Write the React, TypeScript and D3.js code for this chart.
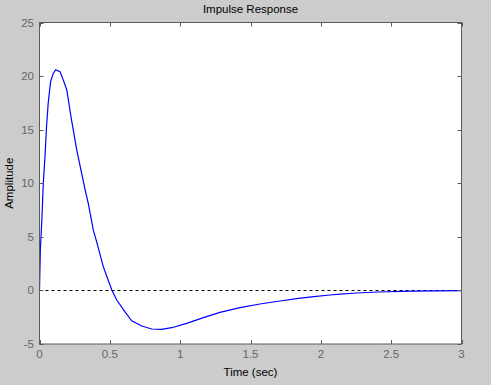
import React from 'react';
import * as d3 from 'd3';

// impulse response samples
const timeSec = [0, 0.002, 0.006, 0.016, 0.027, 0.039, 0.05, 0.062, 0.079, 0.098, 0.115, 0.146, 0.17, 0.194, 0.224, 0.265, 0.3, 0.324, 0.347, 0.383, 0.407, 0.454, 0.514, 0.549, 0.608, 0.655, 0.727, 0.798, 0.868, 0.94, 1.046, 1.165, 1.283, 1.425, 1.567, 1.71, 1.84, 1.95, 2.066, 2.137, 2.255, 2.41, 2.647, 3.0];
const amplitude = [0, 1.3, 3.8, 6.4, 10.0, 12.5, 15.3, 17.5, 19.5, 20.25, 20.6, 20.4, 19.6, 18.7, 16.2, 13.1, 10.9, 9.4, 8.1, 5.6, 4.5, 2.2, 0.04, -0.9, -2.0, -2.83, -3.32, -3.6, -3.63, -3.48, -3.07, -2.54, -2.05, -1.61, -1.27, -0.99, -0.74, -0.58, -0.43, -0.34, -0.24, -0.15, -0.06, -0.02];

const xTicks = [0, 0.5, 1, 1.5, 2, 2.5, 3];
const yTicks = [-5, 0, 5, 10, 15, 20, 25];

const W = 491;
const H = 385;
const left = 39.5;
const right = 461.5;
const top = 22.5;
const bottom = 344;
const font = 'Liberation Sans, Arial, sans-serif';

export default function App() {
  const x = d3.scaleLinear().domain([0, 3]).range([left, right]);
  const y = d3.scaleLinear().domain([-5, 25]).range([bottom, top]);

  const pts = timeSec.map((t, i) => [t, amplitude[i]] as [number, number]);
  const line = d3.line<[number, number]>().x(d => x(d[0])).y(d => y(d[1]));

  const axisColor = '#5a5a5a';
  const labelColor = '#666666';
  const tick = 4;
  const px = (v: number) => Math.round(v) + 0.5;

  return (
    <svg width={W} height={H} style={{ position: 'absolute', left: 0, top: 0 }}>
      <rect x={0} y={0} width={W} height={H} fill="#cccccc" />
      <rect x={left} y={top} width={right - left} height={bottom - top} fill="#ffffff" />

      <line x1={left} x2={right} y1={px(y(0))} y2={px(y(0))}
        stroke="#000" strokeDasharray="3,3" />

      <path d={line(pts) ?? ''} fill="none" stroke="#0000ff" strokeWidth={1.2} />

      <rect x={left} y={top} width={right - left} height={bottom - top} fill="none" stroke={axisColor} />

      {xTicks.map(t => (
        <g key={'x' + t}>
          <line x1={px(x(t))} x2={px(x(t))} y1={bottom} y2={bottom - tick} stroke={axisColor} />
          <line x1={px(x(t))} x2={px(x(t))} y1={top} y2={top + tick} stroke={axisColor} />
          <text x={x(t)} y={358} textAnchor="middle" fontFamily={font} fontSize={11.5} fill={labelColor}>{t}</text>
        </g>
      ))}
      {yTicks.map(v => (
        <g key={'y' + v}>
          <line x1={left} x2={left + tick} y1={px(y(v))} y2={px(y(v))} stroke={axisColor} />
          <line x1={right} x2={right - tick} y1={px(y(v))} y2={px(y(v))} stroke={axisColor} />
          <text x={34} y={y(v) + 4} textAnchor="end" fontFamily={font} fontSize={11.5} fill={labelColor}>{v}</text>
        </g>
      ))}

      <text x={(left + right) / 2} y={13} textAnchor="middle" fontFamily={font} fontSize={11.5} fill="#000">Impulse Response</text>
      <text x={(left + right) / 2} y={376} textAnchor="middle" fontFamily={font} fontSize={11.5} fill="#000">Time (sec)</text>
      <text transform={`translate(13,${(top + bottom) / 2}) rotate(-90)`} textAnchor="middle" fontFamily={font} fontSize={11.5} fill="#000">Amplitude</text>
    </svg>
  );
}
